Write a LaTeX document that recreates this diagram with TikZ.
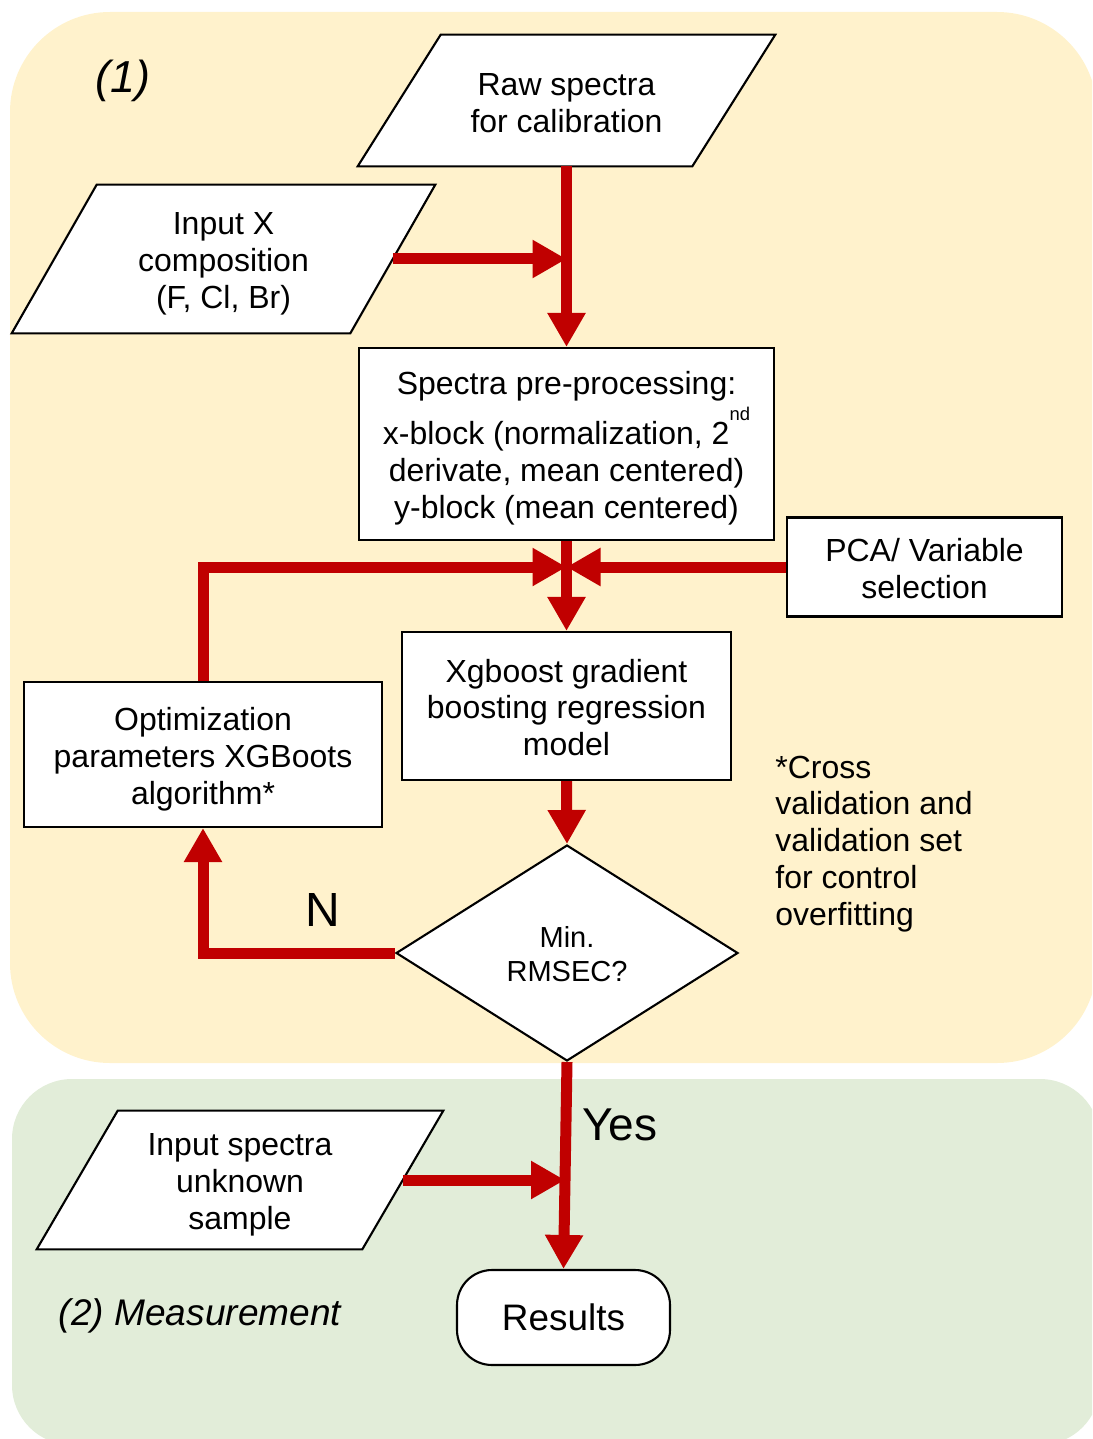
\documentclass[tikz,border=0pt]{standalone}
\usepackage{fontspec}
\setmainfont{Liberation Sans}
\usetikzlibrary{shapes.geometric,arrows.meta,calc}
\definecolor{ybg}{HTML}{FFF2CC}
\definecolor{gbg}{HTML}{E2EDD9}
\definecolor{arrred}{HTML}{C00000}
\begin{document}
\begin{tikzpicture}[x=0.02cm,y=-0.02cm,
  rbox/.style={draw=black, line width=1.2pt, fill=white, inner sep=0pt},
  shp/.style={draw=none, inner sep=0pt, rectangle},
  pline/.style={draw=black, line width=1.2pt, fill=white, line join=miter},
  txt/.style={inner sep=0pt, align=center, font=\fontsize{18.2}{21}\selectfont},
  flow/.style={draw=arrred, line width=0.22cm, -{Triangle[length=0.68cm,width=0.72cm]}},
  lbl/.style={inner sep=0pt}
]
\useasboundingbox (0,0) rectangle (1092,1439);
\begin{scope}
  \clip (0,0) rectangle (1092,1439);
  \fill[ybg, rounded corners=2cm] (10,12) rectangle (1097,1063);
  \fill[gbg, rounded corners=1.2cm] (12,1079) rectangle (1100,1445);
\end{scope}

% Raw spectra (parallelogram)
\node[shp, minimum width=8.34cm, minimum height=2.62cm] (raw) at (566.5,100.5) {};
\draw[pline] ($(raw.north west)+(83,0)$) -- (raw.north east) -- ($(raw.south east)+(-83,0)$) -- (raw.south west) -- cycle;
\node[txt] (rawt) at ($(raw.center)+(0,3)$) {Raw spectra\\for calibration};

% Input X (parallelogram)
\node[shp, minimum width=8.46cm, minimum height=2.96cm] (inx) at (223.5,259) {};
\draw[pline] ($(inx.north west)+(85,0)$) -- (inx.north east) -- ($(inx.south east)+(-85,0)$) -- (inx.south west) -- cycle;
\node[txt] (inxt) at ($(inx.center)+(0,4.5)$) {Input X\\composition\\(F, Cl, Br)};
\coordinate (inxr) at ($(inx.east)+(-42.5,0)$);

% Pre-processing
\node[rbox, minimum width=8.3cm, minimum height=3.84cm] (pre) at (566.5,444) {};
\node[txt] (pret) at ($(pre.center)+(0,4.5)$)
  {Spectra pre-processing:\\[7.5pt]x-block (normalization, 2\smash{\raisebox{14pt}{\fontsize{10.5}{12}\selectfont nd}}\\derivate, mean centered)\\y-block (mean centered)};

% PCA
\node[rbox, minimum width=5.5cm, minimum height=1.98cm] (pca) at (924.5,567) {};
\node[txt] (pcat) at ($(pca.center)+(0,1.5)$) {PCA/ Variable\\selection};

% Xgboost
\node[rbox, minimum width=6.58cm, minimum height=2.96cm] (xgb) at (566.5,706) {};
\node[txt] (xgbt) at ($(xgb.center)+(0,1.5)$) {Xgboost gradient\\boosting regression\\model};

% Optimization
\node[rbox, minimum width=7.16cm, minimum height=2.9cm] (opt) at (203,754.5) {};
\node[txt] (optt) at ($(opt.center)+(0,5)$) {Optimization\\parameters XGBoots\\algorithm*};

% Decision
\node[rbox, diamond, minimum width=6.84cm, minimum height=4.32cm] (dec) at (567,953) {};
\node[txt, font=\fontsize{16.5}{19.3}\selectfont] (dect) at ($(dec.center)+(0,1)$) {Min.\\RMSEC?};

% Input spectra (parallelogram)
\node[shp, minimum width=8.12cm, minimum height=2.76cm] (ins) at (240,1180) {};
\draw[pline] ($(ins.north west)+(81,0)$) -- (ins.north east) -- ($(ins.south east)+(-81,0)$) -- (ins.south west) -- cycle;
\node[txt] (inst) at ($(ins.center)+(0,4.5)$) {Input spectra\\unknown\\sample};
\coordinate (insr) at ($(ins.east)+(-40.5,0)$);

% Results
\node[rbox, rounded corners=0.7cm, minimum width=4.26cm, minimum height=1.9cm] (res) at (563.5,1317.5) {};
\node[txt, font=\fontsize{21}{25}\selectfont] (rest) at (res.center) {Results};

% labels
\node[lbl, font=\fontsize{25.5}{30}\selectfont\itshape] (l1) at (123,81) {(1)};
\node[lbl, font=\fontsize{21.1}{25}\selectfont\itshape] (l2) at (200,1316) {(2) Measurement};
\node[lbl, font=\fontsize{27.3}{32}\selectfont] (lN) at (323,910) {N};
\node[lbl, font=\fontsize{26.2}{31}\selectfont] (lY) at (620,1125) {Yes};
\node[lbl, anchor=west, align=left, font=\fontsize{18.2}{21}\selectfont] (note) at (775,844)
  {*Cross\\validation and\\validation set\\for control\\overfitting};

% junctions
\coordinate (j1) at (566.5,259);
\coordinate (j2) at (566.5,567);
\coordinate (j3) at (565,1180);

% connectors
\draw[flow] (raw.south) -- (pre.north);
\draw[flow] (inxr) -- (j1);
\draw[flow] (pre.south) -- (xgb.north);
\draw[flow] (pca.west) -- (j2);
\draw[flow] (opt.north) |- (j2);
\draw[flow] (xgb.south) -- (dec.north);
\draw[flow] (dec.west) -| (opt.south);
\draw[flow] (dec.south) -- (res.north);
\draw[flow] (insr) -- (j3);
\end{tikzpicture}
\end{document}
